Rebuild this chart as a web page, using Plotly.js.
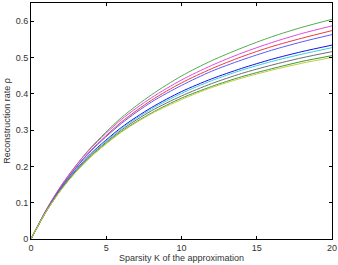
<!DOCTYPE html>
<html>
<head>
<meta charset="utf-8">
<script src="https://cdn.plot.ly/plotly-3.0.1.min.js"></script>
<style>html,body{margin:0;padding:0;background:#fff;}#chart{width:338px;height:265px;}</style>
</head>
<body>
<div id="chart"></div>
<script>
var xK = [0, 1, 2, 3, 4, 6, 8, 10, 12, 14, 16, 18, 20];
var seriesNames = ["green", "magenta", "red", "blue", "darkblue", "cyan", "gray", "green2", "yellow"];
var seriesColors = ["#4fae4f", "#e04ae0", "#f03a3a", "#5a5aff", "#1010f0", "#3ccfd6", "#6e6e6e", "#3a9a3a", "#c9cc3a"];
var rhoGreen    = [0, .079, .146, .203, .253, .334, .397, .449, .491, .526, .557, .583, .605];
var rhoMagenta  = [0, .080, .147, .203, .251, .329, .389, .438, .478, .512, .541, .566, .587];
var rhoRed      = [0, .078, .143, .198, .245, .322, .382, .430, .469, .502, .530, .553, .574];
var rhoBlue     = [0, .077, .142, .196, .243, .318, .377, .423, .462, .493, .520, .543, .563];
var rhoDarkBlue = [0, .076, .139, .191, .236, .307, .362, .406, .441, .470, .495, .516, .534];
var rhoCyan     = [0, .076, .138, .190, .234, .304, .358, .401, .436, .465, .489, .509, .527];
var rhoGray     = [0, .075, .137, .188, .231, .300, .353, .394, .428, .456, .479, .499, .516];
var rhoGreen2   = [0, .075, .136, .186, .228, .296, .347, .388, .420, .447, .469, .489, .505];
var rhoYellow   = [0, .075, .135, .185, .227, .294, .345, .384, .417, .443, .465, .484, .500];
var allRho = [rhoGreen, rhoMagenta, rhoRed, rhoBlue, rhoDarkBlue, rhoCyan, rhoGray, rhoGreen2, rhoYellow];
var xTickVals = [0, 5, 10, 15, 20];
var yTickVals = [0, 0.1, 0.2, 0.3, 0.4, 0.5, 0.6];

var traces = allRho.map(function (ys, i) {
  return {
    x: xK, y: ys, type: 'scatter', mode: 'lines', name: seriesNames[i],
    line: {color: seriesColors[i], width: 1, shape: 'spline', smoothing: 0.8},
    hoverinfo: 'skip'
  };
});

var fontFam = 'Liberation Sans, Arial, sans-serif';
var layout = {
  width: 338, height: 265,
  margin: {l: 31, r: 6, t: 3, b: 26},
  paper_bgcolor: '#fff', plot_bgcolor: '#fff',
  showlegend: false,
  font: {family: fontFam, size: 9, color: '#333'},
  xaxis: {
    range: [0, 20], tickvals: xTickVals, ticks: 'inside', ticklen: 3, tickcolor: '#000',
    showline: true, linecolor: '#000', linewidth: 1, mirror: 'ticks', showgrid: false, zeroline: false,
    tickfont: {size: 9, color: '#333'},
    title: {text: 'Sparsity K of the approximation', font: {size: 9, color: '#333'}, standoff: 2},
    automargin: false, fixedrange: true
  },
  yaxis: {
    range: [0, 0.65], tickvals: yTickVals, ticks: 'inside', ticklen: 3, tickcolor: '#000',
    showline: true, linecolor: '#000', linewidth: 1, mirror: 'ticks', showgrid: false, zeroline: false,
    tickfont: {size: 9, color: '#333'},
    title: {text: 'Reconstruction rate ρ', font: {size: 9, color: '#333'}, standoff: 3},
    automargin: false, fixedrange: true
  }
};
Plotly.newPlot('chart', traces, layout, {staticPlot: true, displayModeBar: false});
</script>
</body>
</html>
